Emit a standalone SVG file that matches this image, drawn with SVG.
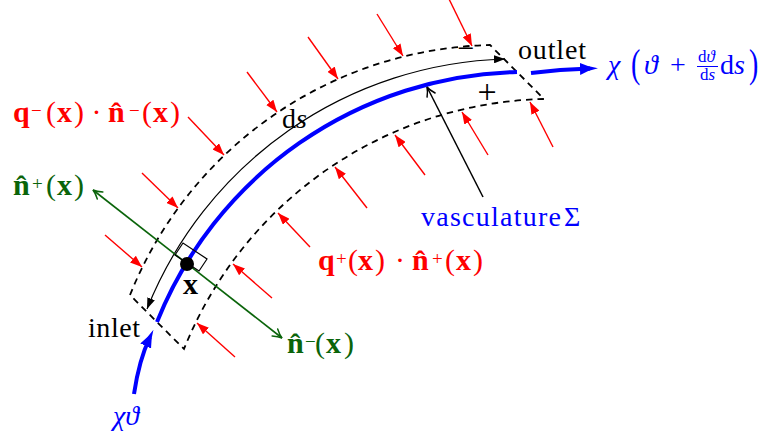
<svg xmlns="http://www.w3.org/2000/svg" width="764" height="439" viewBox="0 0 764 439">
<defs>
<style>
.t{font-family:"Liberation Serif","DejaVu Serif",serif;font-size:28px}
.lab{font-size:30px}
.sm{font-size:17px}
.b{font-weight:bold}
.i{font-style:italic}
.sup{font-size:19px}
.red{fill:#ff0000}
.grn{fill:#0a640a}
.blu{fill:#0000ff}
.blk{fill:#000000}
.ra{stroke:#ff0000;stroke-width:1.4;fill:none;marker-end:url(#rh)}
.box{fill:none;stroke:#000;stroke-width:1.8;stroke-dasharray:6.5 5}
</style>
<marker id="rh" viewBox="0 0 12 9" refX="12" refY="4.5" markerWidth="12" markerHeight="9" markerUnits="userSpaceOnUse" orient="auto"><path d="M0,0 L12,4.5 L0,9 Z" fill="#ff0000"/></marker>
<marker id="kh" viewBox="0 0 11 8" refX="11" refY="4" markerWidth="11" markerHeight="8" markerUnits="userSpaceOnUse" orient="auto-start-reverse"><path d="M0,0 L11,4 L0,8 Z" fill="#000"/></marker>
<marker id="bh" viewBox="0 0 18 12" refX="10" refY="6" markerWidth="18" markerHeight="12" markerUnits="userSpaceOnUse" orient="auto"><path d="M0,0 Q9,4.5 18,6 Q9,7.5 0,12 Z" fill="#0000ff"/></marker>
<marker id="gh" viewBox="-1 -1 12 12" refX="10" refY="5" markerWidth="12" markerHeight="12" markerUnits="userSpaceOnUse" orient="auto-start-reverse"><path d="M1,0.5 Q6,4 10,5 Q6,6 1,9.5" fill="none" stroke="#0a640a" stroke-width="1.5" stroke-linecap="round"/></marker>
<marker id="oh" viewBox="-1 -1 12 12" refX="10" refY="5" markerWidth="12" markerHeight="12" markerUnits="userSpaceOnUse" orient="auto"><path d="M1,0.5 Q6,4 10,5 Q6,6 1,9.5" fill="none" stroke="#000" stroke-width="1.5" stroke-linecap="round"/></marker>
</defs>

<g id="control-volume">
<path class="box" d="M130,295 A398,398 0 0 1 490,45 L544,99 A398,398 0 0 0 184,349 Z"/>
</g>

<g id="vessel">
<path d="M157,322 A398,398 0 0 1 517,72" fill="none" stroke="#0000ff" stroke-width="4"/>
</g>

<g id="connectors">
<path d="M134,394 Q139,360 150,337" fill="none" stroke="#0000ff" stroke-width="4" marker-end="url(#bh)"/>
<path d="M531,73 Q560,69.5 590,68.6" fill="none" stroke="#0000ff" stroke-width="4" marker-end="url(#bh)"/>
<path d="M147,309 A398,398 0 0 1 505,59" fill="none" stroke="#000" stroke-width="1.2" marker-start="url(#kh)" marker-end="url(#kh)"/>
<line x1="93" y1="190" x2="282" y2="338" stroke="#0a640a" stroke-width="1.6" marker-start="url(#gh)" marker-end="url(#gh)"/>
<line x1="483" y1="197" x2="427" y2="87" stroke="#000" stroke-width="1.5" marker-end="url(#oh)"/>
<line class="ra" x1="105" y1="235" x2="142" y2="267"/>
<line class="ra" x1="142" y1="173" x2="178" y2="208"/>
<line class="ra" x1="188" y1="117" x2="224" y2="155"/>
<line class="ra" x1="247" y1="72" x2="277" y2="112"/>
<line class="ra" x1="308" y1="37" x2="338" y2="79"/>
<line class="ra" x1="377" y1="14" x2="403" y2="56"/>
<line class="ra" x1="449" y1="-1" x2="472" y2="46"/>
<line class="ra" x1="235" y1="357" x2="197" y2="323"/>
<line class="ra" x1="272" y1="298" x2="233" y2="264"/>
<line class="ra" x1="310" y1="247" x2="278" y2="213"/>
<line class="ra" x1="367" y1="208" x2="335" y2="167"/>
<line class="ra" x1="425" y1="175" x2="395" y2="135"/>
<line class="ra" x1="488" y1="155" x2="462" y2="112"/>
<line class="ra" x1="553" y1="147" x2="530" y2="102"/>
</g>

<g id="point-x">
<polygon points="175,255 183,243 207,259 199,271" fill="none" stroke="#000" stroke-width="1.2"/>
<circle cx="187" cy="264" r="7" fill="#000"/>
<text class="t lab b blk" x="183" y="294">x</text>
</g>

<g id="labels">
<text class="t lab red"><tspan class="b" x="13" y="122">q</tspan><tspan class="sup" x="31" dy="-5">−</tspan><tspan x="46" dy="5">(</tspan><tspan class="b" x="57">x</tspan><tspan x="74">)</tspan><tspan x="91.5">·</tspan><tspan class="b" x="108">n̂</tspan><tspan class="sup" x="129" dy="-5">−</tspan><tspan x="142" dy="5">(</tspan><tspan class="b" x="153">x</tspan><tspan x="170">)</tspan></text>
<text class="t lab grn"><tspan class="b" x="13" y="195">n̂</tspan><tspan class="sup" x="32" dy="-5">+</tspan><tspan x="46" dy="5">(</tspan><tspan class="b" x="57">x</tspan><tspan x="74">)</tspan></text>
<text class="t lab red"><tspan class="b" x="318" y="270">q</tspan><tspan class="sup" x="336" dy="-5">+</tspan><tspan x="348" dy="5">(</tspan><tspan class="b" x="358">x</tspan><tspan x="375">)</tspan><tspan x="395">·</tspan><tspan class="b" x="412">n̂</tspan><tspan class="sup" x="432" dy="-5">+</tspan><tspan x="445" dy="5">(</tspan><tspan class="b" x="456">x</tspan><tspan x="473">)</tspan></text>
<text class="t lab grn"><tspan class="b" x="287" y="353">n̂</tspan><tspan class="sup" x="305" dy="-5">−</tspan><tspan x="315" dy="5">(</tspan><tspan class="b" x="326">x</tspan><tspan x="344">)</tspan></text>
<text class="t blk" x="88" y="337" textLength="52">inlet</text>
<text class="t blk" x="518" y="59" textLength="68">outlet</text>
<text class="t blk" x="282" y="128">d<tspan class="i">s</tspan></text>
<text class="t lab blk" x="466" y="58" text-anchor="middle">−</text>
<text class="t blk" x="487" y="103" text-anchor="middle" style="font-size:34px">+</text>
<text class="t blu" x="421" y="226" textLength="140">vasculature</text>
<text class="t blu" x="564" y="226">Σ</text>
<text class="t blu i" x="113" y="425">χϑ</text>
<text class="t blu i" x="608" y="74">χ</text>
<text class="t blu" transform="translate(631,77) scale(1,1.45)">(</text>
<text class="t blu i" x="644" y="74">ϑ</text>
<text class="t blu" x="670" y="74">+</text>
<text class="t sm blu" x="698" y="62">d<tspan class="i">ϑ</tspan></text>
<line x1="697" y1="66.5" x2="718" y2="66.5" stroke="#0000ff" stroke-width="1"/>
<text class="t sm blu" x="700" y="80">d<tspan class="i">s</tspan></text>
<text class="t blu" x="720" y="74">d<tspan class="i">s</tspan></text>
<text class="t blu" transform="translate(749,77) scale(1,1.45)">)</text>
</g>
</svg>
